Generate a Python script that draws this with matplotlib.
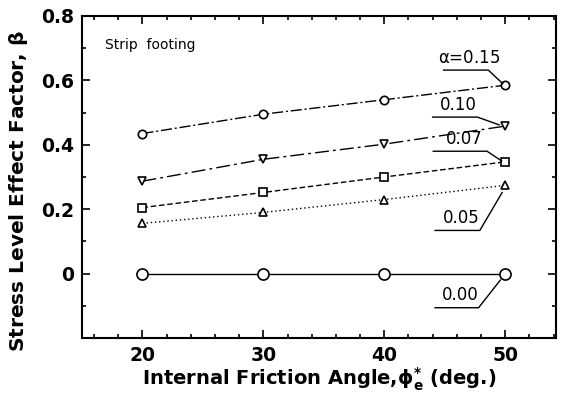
import matplotlib
matplotlib.use("Agg")
from matplotlib import pyplot as plt
from matplotlib.ticker import MultipleLocator

plt.rcParams['font.family'] = ['DejaVu Sans']
plt.rcParams['mathtext.fontset'] = 'dejavusans'

# friction angle (deg.)
phi = [20, 30, 40, 50]

# stress level effect factor for each alpha
beta_015 = [0.435, 0.495, 0.54, 0.585]
beta_010 = [0.287, 0.355, 0.402, 0.458]
beta_007 = [0.205, 0.252, 0.30, 0.347]
beta_005 = [0.156, 0.19, 0.23, 0.274]
beta_000 = [0.0, 0.0, 0.0, 0.0]

alpha_labels = [r'$\mathregular{\alpha}$=0.15', '0.10', '0.07', '0.05', '0.00']

fig = plt.figure(figsize=(5.71, 3.96), dpi=100)
ax = fig.add_axes([0.1436, 0.1465, 0.8301, 0.8131])

ax.plot(phi, beta_015, color='k', lw=1, linestyle=(0, (8, 2, 1.5, 2)),
        marker='o', ms=6, mfc='white', mec='k', mew=1.2)
ax.plot(phi, beta_010, color='k', lw=1, linestyle=(0, (10, 3, 2, 3)),
        marker='v', ms=6, mfc='white', mec='k', mew=1.2)
ax.plot(phi, beta_007, color='k', lw=1, linestyle=(0, (4, 2)),
        marker='s', ms=5.5, mfc='white', mec='k', mew=1.2)
ax.plot(phi, beta_005, color='k', lw=1, linestyle=(0, (1, 2)),
        marker='^', ms=5.5, mfc='white', mec='k', mew=1.2)
ax.plot(phi, beta_000, color='k', lw=1, linestyle='-',
        marker='o', ms=8, mfc='white', mec='k', mew=1.2)

# leader lines: underline start, underline end, point near marker
leaders = [
    (44.9, 48.6, 0.632, 49.8, 0.59),
    (44.0, 47.7, 0.486, 49.5, 0.462),
    (44.05, 48.5, 0.38, 49.7, 0.35),
    (44.2, 47.9, 0.134, 49.75, 0.252),
    (44.2, 47.8, -0.106, 49.6, -0.02),
]
for (x0, x1, yl, xe, ye), lab in zip(leaders, alpha_labels):
    ax.plot([x0, x1, xe], [yl, yl, ye], color='k', lw=1)
    ax.text((x0 + x1) / 2 + 0.3, yl + 0.01, lab, ha='center', va='bottom',
            fontsize=12)

ax.text(16.9, 0.71, 'Strip  footing', fontsize=10, ha='left', va='center')

ax.set_xlim(15, 54.2)
ax.set_ylim(-0.2, 0.8)
ax.xaxis.set_major_locator(MultipleLocator(10))
ax.xaxis.set_minor_locator(MultipleLocator(2))
ax.yaxis.set_major_locator(MultipleLocator(0.2))
ax.yaxis.set_minor_locator(MultipleLocator(0.1))
ax.set_xticks([20, 30, 40, 50])
ax.set_xticklabels(['20', '30', '40', '50'])
ax.set_yticks([-0.2, 0, 0.2, 0.4, 0.6, 0.8])
ax.set_yticklabels(['', '0', '0.2', '0.4', '0.6', '0.8'])

ax.tick_params(which='both', direction='in', top=True, right=True, width=1.2)
ax.tick_params(which='major', length=6, labelsize=13.5, pad=6)
ax.tick_params(which='minor', length=3)
for lbl in ax.get_xticklabels() + ax.get_yticklabels():
    lbl.set_fontweight('bold')
for sp in ax.spines.values():
    sp.set_linewidth(1.5)

ax.set_xlabel(r'Internal Friction Angle,$\mathbf{\phi_{e}^{*}}$ (deg.)',
              fontsize=14, fontweight='bold', labelpad=0)
ax.set_ylabel(r'Stress Level Effect Factor, $\mathbf{\beta}$',
              fontsize=14.5, fontweight='bold')
ax.yaxis.set_label_coords(-0.11, 0.456)

fig.savefig('out.png', dpi=100)
